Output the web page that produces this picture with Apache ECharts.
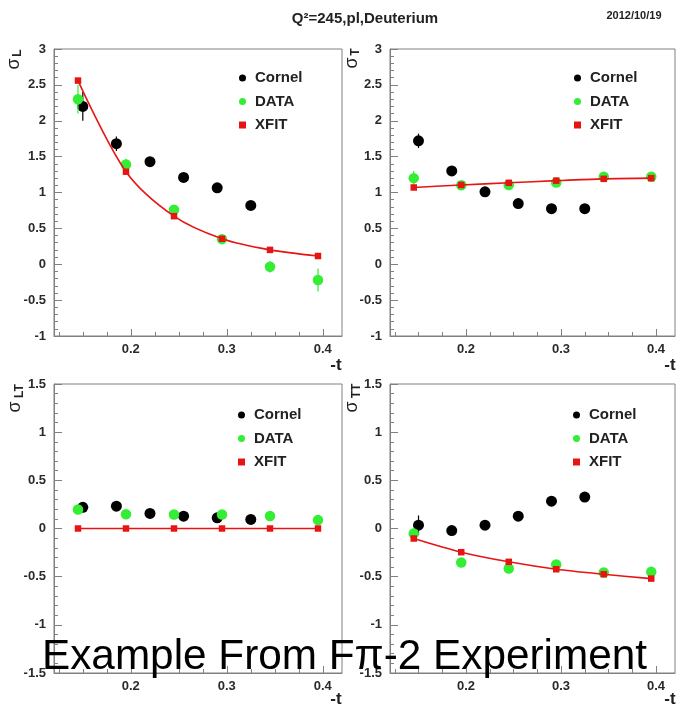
<!DOCTYPE html>
<html>
<head>
<meta charset="utf-8">
<script src="https://cdn.jsdelivr.net/npm/echarts@6/dist/echarts.min.js"></script>
<style>html,body{margin:0;padding:0;background:#fff;}#c{width:678px;height:704px;}</style>
</head>
<body>
<div id="c"></div>
<script>
// ---- data ----
const xData = [0.145, 0.195, 0.245, 0.295, 0.345, 0.395];   // DATA / XFIT -t values
const xCornel = [0.15, 0.185, 0.22, 0.255, 0.29, 0.325];     // Cornel -t values

const cornelL = [2.2, 1.68, 1.43, 1.21, 1.065, 0.82];
const cornelLErr = [0.2, 0.1, 0.03, 0.03, 0.03, 0.03];
const dataL = [2.3, 1.39, 0.76, 0.35, -0.035, -0.22];
const dataLErr = [0.2, 0.08, 0.06, 0.05, 0.08, 0.16];
const xfitL = [2.56, 1.29, 0.67, 0.355, 0.2, 0.115];

const cornelT = [1.72, 1.3, 1.01, 0.845, 0.775, 0.775];
const cornelTErr = [0.1, 0.05, 0.03, 0.03, 0.03, 0.03];
const dataT = [1.2, 1.1, 1.105, 1.14, 1.22, 1.22];
const dataTErr = [0.1, 0.04, 0.04, 0.04, 0.04, 0.04];
const xfitT = [1.07, 1.105, 1.135, 1.165, 1.19, 1.2];

const cornelLT = [0.22, 0.232, 0.156, 0.128, 0.111, 0.094];
const cornelLTErr = [0.04, 0.03, 0.02, 0.02, 0.02, 0.02];
const dataLT = [0.197, 0.148, 0.145, 0.145, 0.13, 0.087];
const dataLTErr = [0.04, 0.03, 0.03, 0.03, 0.03, 0.03];
const xfitLT = [0, 0, 0, 0, 0, 0];

const cornelTT = [0.035, -0.021, 0.035, 0.128, 0.284, 0.326];
const cornelTTErr = [0.1, 0.03, 0.03, 0.03, 0.03, 0.03];
const dataTT = [-0.052, -0.353, -0.416, -0.374, -0.457, -0.45];
const dataTTErr = [0.06, 0.04, 0.04, 0.04, 0.04, 0.04];
const xfitTT = [-0.104, -0.246, -0.346, -0.423, -0.475, -0.52];

const xMajorTicks = [0.2, 0.3, 0.4];
const xMinorTicks = [0.125, 0.15, 0.175, 0.225, 0.25, 0.275, 0.325, 0.35, 0.375];
const xRange = [0.12, 0.42];
const yRangeTop = [-1, 3];
const yRangeBottom = [-1.5, 1.5];

const panels = [
  {cornel: cornelL, cornelErr: cornelLErr, data: dataL, dataErr: dataLErr, xfit: xfitL, yr: yRangeTop},
  {cornel: cornelT, cornelErr: cornelTErr, data: dataT, dataErr: dataTErr, xfit: xfitT, yr: yRangeTop},
  {cornel: cornelLT, cornelErr: cornelLTErr, data: dataLT, dataErr: dataLTErr, xfit: xfitLT, yr: yRangeBottom},
  {cornel: cornelTT, cornelErr: cornelTTErr, data: dataTT, dataErr: dataTTErr, xfit: xfitTT, yr: yRangeBottom}
];

// ---- layout / style ----
const FONT = 'Liberation Sans, Arial, Helvetica, sans-serif';
const BLACK = '#000000', GREEN = '#33ee33', RED = '#e81414', FRAME = '#808080', LABEL = '#2a2a2a';
const grids = [
  {left: 54, top: 49, width: 288, height: 287},
  {left: 390, top: 49, width: 285, height: 287},
  {left: 54, top: 384, width: 288, height: 289},
  {left: 390, top: 384, width: 285, height: 289}
];
const legendPos = [
  {left: 239, top: 70}, {left: 574, top: 70}, {left: 238, top: 407}, {left: 573, top: 407}
];

const pairs = (xs, ys) => xs.map((x, i) => [x, ys[i]]);
const triples = (xs, ys, es) => xs.map((x, i) => [x, ys[i], es[i]]);

function errRender(color) {
  return function (params, api) {
    const x = api.value(0), y = api.value(1), e = api.value(2);
    const p1 = api.coord([x, y - e]);
    const p2 = api.coord([x, y + e]);
    return {type: 'line', shape: {x1: p1[0], y1: p1[1], x2: p2[0], y2: p2[1]},
            style: {stroke: color, lineWidth: 1.2}};
  };
}

const xAxes = [], yAxes = [], series = [], legends = [];
panels.forEach((p, i) => {
  xAxes.push({
    type: 'value', gridIndex: i, min: xRange[0], max: xRange[1],
    axisLine: {show: true, onZero: false, lineStyle: {color: FRAME, width: 1}},
    axisTick: {show: true, inside: true, length: 7, customValues: xMajorTicks, lineStyle: {color: FRAME}},
    axisLabel: {customValues: xMajorTicks, formatter: v => Number(v).toFixed(1),
                fontFamily: FONT, fontWeight: 'bold', fontSize: 13, color: LABEL, margin: 7},
    splitLine: {show: false}
  });
  xAxes.push({
    type: 'value', gridIndex: i, min: xRange[0], max: xRange[1], position: 'bottom',
    axisLine: {show: false, onZero: false},
    axisTick: {show: true, inside: true, length: 4, customValues: xMinorTicks, lineStyle: {color: FRAME}},
    axisLabel: {show: false},
    splitLine: {show: false}
  });
  yAxes.push({
    type: 'value', gridIndex: i, min: p.yr[0], max: p.yr[1], interval: 0.5,
    axisLine: {show: true, onZero: false, lineStyle: {color: FRAME, width: 1}},
    axisTick: {show: true, inside: true, length: 8, lineStyle: {color: FRAME}},
    minorTick: {show: true, splitNumber: 5, length: 4, lineStyle: {color: FRAME}},
    axisLabel: {fontFamily: FONT, fontWeight: 'bold', fontSize: 13, color: LABEL, margin: 8},
    splitLine: {show: false}, minorSplitLine: {show: false}
  });
  const xi = 2 * i;
  series.push({type: 'custom', name: 'errC' + i, xAxisIndex: xi, yAxisIndex: i, z: 1,
               renderItem: errRender(BLACK), data: triples(xCornel, p.cornel, p.cornelErr), silent: true});
  series.push({type: 'scatter', name: 'Cornel', xAxisIndex: xi, yAxisIndex: i, z: 2,
               symbol: 'circle', symbolSize: 11, itemStyle: {color: BLACK, opacity: 1},
               data: pairs(xCornel, p.cornel)});
  series.push({type: 'custom', name: 'errD' + i, xAxisIndex: xi, yAxisIndex: i, z: 3,
               renderItem: errRender(GREEN), data: triples(xData, p.data, p.dataErr), silent: true});
  series.push({type: 'scatter', name: 'DATA', xAxisIndex: xi, yAxisIndex: i, z: 4,
               symbol: 'circle', symbolSize: 10.5, itemStyle: {color: GREEN, opacity: 1},
               data: pairs(xData, p.data)});
  series.push({type: 'line', name: 'XFITline' + i, xAxisIndex: xi, yAxisIndex: i, z: 5,
               showSymbol: false, smooth: 0.3, lineStyle: {color: RED, width: 1.6},
               data: pairs(xData, p.xfit), silent: true});
  series.push({type: 'scatter', name: 'XFIT', xAxisIndex: xi, yAxisIndex: i, z: 6,
               symbol: 'rect', symbolSize: 6.5, itemStyle: {color: RED, opacity: 1},
               data: pairs(xData, p.xfit)});
  legends.push({
    orient: 'vertical', left: legendPos[i].left, top: legendPos[i].top, padding: 0,
    itemWidth: 7, itemHeight: 7, itemGap: 7.5, selectedMode: false,
    data: [{name: 'Cornel', icon: 'circle'}, {name: 'DATA', icon: 'circle'}, {name: 'XFIT', icon: 'rect'}],
    textStyle: {fontFamily: FONT, fontWeight: 'bold', fontSize: 15, color: '#222', lineHeight: 16, padding: [0, 0, 0, 4]}
  });
});

function rotText(txt, x, y, size, bold) {
  return {type: 'text', x: x, y: y, rotation: Math.PI / 2,
          style: {text: txt, fontFamily: FONT, fontSize: size, fontWeight: bold ? 'bold' : 'normal',
                  fill: '#222', align: 'center', verticalAlign: 'middle'}};
}
function plainText(txt, x, y, size, bold, align, color) {
  return {type: 'text', x: x, y: y,
          style: {text: txt, fontFamily: FONT, fontSize: size, fontWeight: bold ? 'bold' : 'normal',
                  fill: color || '#222', align: align || 'center', verticalAlign: 'middle'}};
}

const graphics = [
  plainText('Q\u00b2=245,pl,Deuterium', 365, 19, 15, true),
  plainText('2012/10/19', 634, 16, 11, true),
  rotText('\u03c3', 14, 64, 18, false), rotText('L', 18, 53, 12, true),
  rotText('\u03c3', 352, 63, 18, false), rotText('T', 356, 52, 12, true),
  rotText('\u03c3', 15, 407, 18, false), rotText('LT', 20, 391, 12, true),
  rotText('\u03c3', 352, 407, 18, false), rotText('TT', 357, 391, 12, true),
  plainText('-t', 336, 365, 17, true),
  plainText('-t', 670, 365, 17, true),
  plainText('-t', 336, 699, 17, true),
  plainText('-t', 670, 699, 17, true),
  {type: 'text', x: 42, y: 657, z: 100,
   style: {text: 'Example From F\u03c0-2 Experiment', fontFamily: FONT, fontSize: 42.3, fill: '#000',
           align: 'left', verticalAlign: 'middle'}}
];

const chart = echarts.init(document.getElementById('c'), null, {renderer: 'canvas'});
chart.setOption({
  backgroundColor: '#ffffff',
  animation: false,
  grid: grids.map(g => Object.assign({show: true, borderColor: FRAME, borderWidth: 1, backgroundColor: 'transparent'}, g)),
  xAxis: xAxes,
  yAxis: yAxes,
  legend: legends,
  series: series,
  graphic: graphics
});
</script>
</body>
</html>
